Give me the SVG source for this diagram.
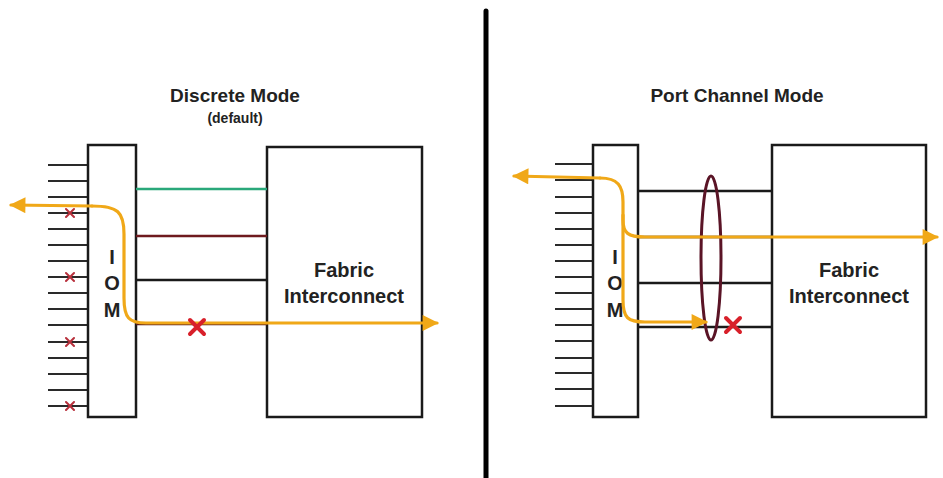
<svg xmlns="http://www.w3.org/2000/svg" width="943" height="478" viewBox="0 0 943 478">
<style>
.box{fill:#fff;stroke:#1a1a1a;stroke-width:2.5}
.port{stroke:#2a2a2a;stroke-width:2}
.link{stroke-width:2.5;fill:none}
.path{fill:none;stroke:#F0A818;stroke-width:3.2;stroke-linecap:round;stroke-linejoin:round}
.t{font-family:"Liberation Sans",Arial,sans-serif;font-weight:bold;fill:#222;text-anchor:middle}
.xs{stroke:#B8303C;stroke-width:2;stroke-linecap:round}
.xb{stroke:#D8202A;stroke-width:4;stroke-linecap:round}
</style>
<defs>
<marker id="ah" viewBox="0 0 10 10" refX="9" refY="5" markerWidth="5.5" markerHeight="5" orient="auto-start-reverse" markerUnits="strokeWidth">
<path d="M0,0 L10,5 L0,10 Z" fill="#F0A818"/>
</marker>
</defs>
<rect width="943" height="478" fill="#fff"/>
<line x1="486" y1="11" x2="486" y2="478" stroke="#000" stroke-width="5" stroke-linecap="round"/>

<g id="title-left">
<text class="t" x="235" y="102" font-size="19">Discrete Mode</text>
<text class="t" x="235" y="123" font-size="14">(default)</text>
</g>
<g id="title-right">
<text class="t" x="737" y="102" font-size="19">Port Channel Mode</text>
</g>

<g id="ports-left">
<line class="port" x1="48" y1="165" x2="88" y2="165"/>
<line class="port" x1="48" y1="181" x2="88" y2="181"/>
<line class="port" x1="48" y1="197" x2="88" y2="197"/>
<line class="port" x1="48" y1="213" x2="88" y2="213"/>
<line class="port" x1="48" y1="229" x2="88" y2="229"/>
<line class="port" x1="48" y1="245" x2="88" y2="245"/>
<line class="port" x1="48" y1="261" x2="88" y2="261"/>
<line class="port" x1="48" y1="277" x2="88" y2="277"/>
<line class="port" x1="48" y1="293" x2="88" y2="293"/>
<line class="port" x1="48" y1="309" x2="88" y2="309"/>
<line class="port" x1="48" y1="325" x2="88" y2="325"/>
<line class="port" x1="48" y1="342" x2="88" y2="342"/>
<line class="port" x1="48" y1="358" x2="88" y2="358"/>
<line class="port" x1="48" y1="374" x2="88" y2="374"/>
<line class="port" x1="48" y1="390" x2="88" y2="390"/>
<line class="port" x1="48" y1="406" x2="88" y2="406"/>
<path class="xs" d="M66,209 L74,217 M74,209 L66,217 M66,273 L74,281 M74,273 L66,281 M66,338 L74,346 M74,338 L66,346 M66,402 L74,410 M74,402 L66,410"/>
</g>

<g id="iom-left">
<rect class="box" x="88" y="145" width="48" height="272"/>
<text class="t" x="112" y="264" font-size="20">I</text>
<text class="t" x="112" y="290" font-size="20">O</text>
<text class="t" x="112" y="317" font-size="20">M</text>
</g>

<g id="fi-left">
<rect class="box" x="267" y="147" width="155" height="270"/>
<text class="t" x="344" y="277" font-size="20">Fabric</text>
<text class="t" x="344" y="303" font-size="20">Interconnect</text>
</g>

<g id="ports-right">
<line class="port" x1="555" y1="164" x2="593" y2="164"/>
<line class="port" x1="555" y1="180" x2="593" y2="180"/>
<line class="port" x1="555" y1="197" x2="593" y2="197"/>
<line class="port" x1="555" y1="213" x2="593" y2="213"/>
<line class="port" x1="555" y1="229" x2="593" y2="229"/>
<line class="port" x1="555" y1="245" x2="593" y2="245"/>
<line class="port" x1="555" y1="261" x2="593" y2="261"/>
<line class="port" x1="555" y1="277" x2="593" y2="277"/>
<line class="port" x1="555" y1="293" x2="593" y2="293"/>
<line class="port" x1="555" y1="309" x2="593" y2="309"/>
<line class="port" x1="555" y1="325" x2="593" y2="325"/>
<line class="port" x1="555" y1="341" x2="593" y2="341"/>
<line class="port" x1="555" y1="358" x2="593" y2="358"/>
<line class="port" x1="555" y1="373" x2="593" y2="373"/>
<line class="port" x1="555" y1="389" x2="593" y2="389"/>
<line class="port" x1="555" y1="406" x2="593" y2="406"/>
</g>

<g id="iom-right">
<rect class="box" x="593" y="145" width="45" height="272"/>
<text class="t" x="615" y="264" font-size="20">I</text>
<text class="t" x="615" y="290" font-size="20">O</text>
<text class="t" x="615" y="317" font-size="20">M</text>
</g>

<g id="fi-right">
<rect class="box" x="772" y="145" width="154" height="272"/>
<text class="t" x="849" y="277" font-size="20">Fabric</text>
<text class="t" x="849" y="303" font-size="20">Interconnect</text>
</g>

<g id="connectors">
<line class="link" x1="136" y1="189" x2="267" y2="189" stroke="#2AA87A"/>
<line class="link" x1="136" y1="236" x2="267" y2="236" stroke="#6E1A1E"/>
<line class="link" x1="136" y1="280" x2="267" y2="280" stroke="#1a1a1a"/>
<line class="link" x1="136" y1="324" x2="267" y2="324" stroke="#5A1A1A"/>
<path class="path" d="M92,206 C118,206 124,212 124,234 L124,298 C124,318 129,323 146,323 L437,323" marker-end="url(#ah)"/>
<path class="path" d="M92,206 L11,205" marker-end="url(#ah)"/>
<path class="xb" d="M190,320 L204,334 M204,320 L190,334"/>

<line class="link" x1="638" y1="191" x2="772" y2="191" stroke="#1a1a1a"/>
<line class="link" x1="638" y1="237" x2="772" y2="237" stroke="#1a1a1a"/>
<line class="link" x1="638" y1="283" x2="772" y2="283" stroke="#1a1a1a"/>
<line class="link" x1="638" y1="327" x2="772" y2="327" stroke="#1a1a1a"/>
<ellipse cx="711" cy="258" rx="10" ry="82" fill="none" stroke="#5A1426" stroke-width="3"/>
<path class="path" d="M600,178 C618,178 623,186 623,202 L623,220 C623,233 628,237 645,237 L937,237" marker-end="url(#ah)"/>
<path class="path" d="M623,215 L623,300 C623,318 628,322 645,322 L706,322" marker-end="url(#ah)"/>
<path class="path" d="M600,178 L514,176" marker-end="url(#ah)"/>
<path class="xb" d="M726,318 L740,332 M740,318 L726,332"/>
</g>
</svg>
